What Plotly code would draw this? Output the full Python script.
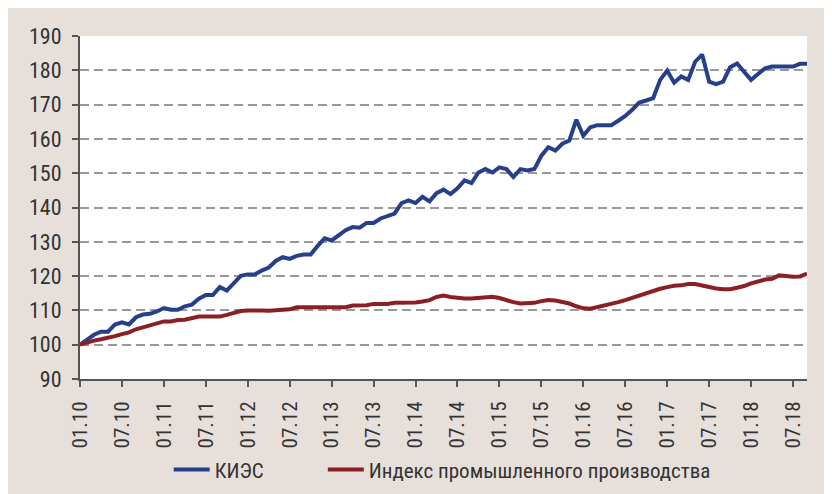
import plotly.graph_objects as go

# Monthly index values, 01.2010 .. 09.2018 (01.2010 = 100)
kies = [100, 101.4, 102.9, 103.8, 103.8, 105.9, 106.5, 105.9, 108, 108.8,
        109, 109.7, 110.7, 110.2, 110.2, 111.2, 111.7, 113.4, 114.5, 114.5,
        116.8, 115.8, 117.9, 120.1, 120.5, 120.5, 121.6, 122.5, 124.4, 125.5,
        125, 125.9, 126.3, 126.3, 128.8, 131, 130.4, 131.9, 133.4, 134.3,
        134.1, 135.5, 135.5, 136.8, 137.4, 138.2, 141.3, 142.1, 141.3, 143.1,
        141.8, 144.2, 145.2, 143.9, 145.6, 147.9, 147.1, 150.2, 151.2, 150.2,
        151.7, 151.2, 148.9, 151.2, 150.8, 151.2, 155.1, 157.6, 156.6, 158.6,
        159.5, 165.6, 160.9, 163.4, 164, 164, 164, 165.3, 166.7, 168.5,
        170.6, 171.2, 171.9, 177.2, 179.9, 176.4, 178.2, 177.2, 182.5, 184.6,
        176.7, 176, 176.7, 180.9, 182, 179.6, 177.2, 178.9, 180.6, 181.1,
        181.1, 181.1, 181.1, 181.9, 181.9]

industry = [100, 100.7, 101.2, 101.6, 102, 102.5, 103.1, 103.6, 104.5, 105,
            105.5, 106.2, 106.8, 106.8, 107.2, 107.3, 107.8, 108.2, 108.2, 108.2,
            108.2, 108.7, 109.3, 109.8, 110, 110.1, 110, 109.9, 110, 110,
            110.3, 110.9, 110.9, 110.9, 110.9, 110.9, 110.9, 110.9, 110.9, 111.4,
            111.4, 111.5, 111.9, 111.9, 111.9, 112.2, 112.2, 112.2, 112.3, 112.6,
            113.0, 113.9, 114.3, 113.9, 113.6, 113.5, 113.5, 113.7, 114.0, 114.0,
            113.6, 112.9, 112.4, 112.0, 112.0, 112.2, 112.7, 113.0, 112.9, 112.5,
            112.0, 111.2, 110.6, 110.5, 110.9, 111.4, 111.9, 112.4, 113.0, 113.7,
            114.4, 115.0, 115.7, 116.3, 116.8, 117.2, 117.3, 117.7, 117.7, 117.2,
            117.0, 116.4, 116.2, 116.2, 116.6, 117.1, 117.9, 118.6, 119.0, 119.2,
            120.2, 120.0, 119.8, 119.9, 120.7]

months = list(range(len(kies)))
tick_pos = list(range(0, 103, 6))
tick_labels = ["01.10", "07.10", "01.11", "07.11", "01.12", "07.12", "01.13", "07.13",
               "01.14", "07.14", "01.15", "07.15", "01.16", "07.16", "01.17", "07.17",
               "01.18", "07.18"]
y_ticks = list(range(90, 191, 10))

FONT = "Liberation Sans Narrow, Arial Narrow, Roboto Condensed, DejaVu Sans Condensed, sans-serif"
BEIGE = "#e7e0da"
TXT = "#333333"

fig = go.Figure()
fig.add_trace(go.Scatter(x=months, y=kies, mode="lines", name="КИЭС",
                         line=dict(color="#263f8b", width=4), legend="legend"))
fig.add_trace(go.Scatter(x=months, y=industry, mode="lines",
                         name="Индекс промышленного производства",
                         line=dict(color="#8b1f24", width=4), legend="legend2"))

leg_common = dict(orientation="h", xanchor="left", yanchor="middle", y=-0.265,
                  font=dict(family=FONT, size=21, color=TXT),
                  bgcolor="rgba(0,0,0,0)", itemwidth=36)

fig.update_layout(
    width=832, height=494,
    margin=dict(l=72, r=33, t=28, b=123),
    paper_bgcolor=BEIGE, plot_bgcolor="white",
    font=dict(family=FONT, size=20, color=TXT),
    showlegend=True,
    legend=dict(x=0.122, **leg_common),
    legend2=dict(x=0.334, **leg_common),
)

fig.update_xaxes(range=[0, 104], tickmode="array", tickvals=tick_pos, ticktext=tick_labels,
                 tickangle=-90, ticks="outside", ticklen=6, tickwidth=1.5, tickcolor="#555555",
                 showline=True, linecolor="#555555", linewidth=2, showgrid=False, zeroline=False,
                 ticklabelstandoff=6,
                 tickfont=dict(family=FONT, size=21, color=TXT))
fig.update_yaxes(range=[90, 190], tickmode="array", tickvals=y_ticks,
                 ticks="outside", ticklen=6, tickwidth=1.5, tickcolor="#555555",
                 showline=True, linecolor="#555555", linewidth=2,
                 showgrid=True, gridcolor="#999999", gridwidth=1.5, griddash="9px,5px",
                 zeroline=False, ticklabelstandoff=6,
                 tickfont=dict(family=FONT, size=22, color=TXT))

fig.write_html("out.html")
